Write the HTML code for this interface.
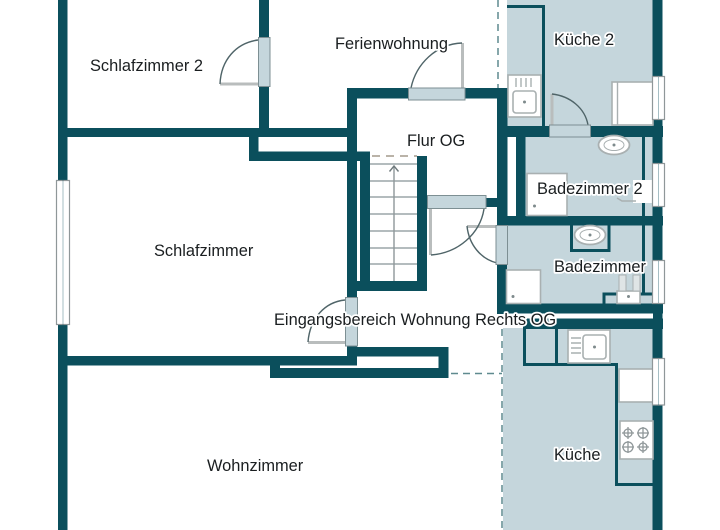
<!DOCTYPE html>
<html lang="de">
<head>
<meta charset="utf-8">
<title>Grundriss</title>
<style>
html,body{margin:0;padding:0;background:#fff}
svg{display:block}
text{font-family:"Liberation Sans",Arial,sans-serif;font-size:16.4px;fill:#1a1e20;stroke:#fff;stroke-width:3.5px;paint-order:stroke;stroke-linejoin:round}
</style>
</head>
<body>
<svg width="720" height="530" viewBox="0 0 720 530" xmlns="http://www.w3.org/2000/svg">
<rect width="720" height="530" fill="#fff"/>

<!-- floors -->
<g fill="#c5d6dc">
<rect x="507" y="0" width="147" height="127"/>
<rect x="515" y="137" width="138" height="80"/>
<rect x="505" y="224" width="148" height="81"/>
<rect x="503" y="328" width="151" height="202"/>
</g>

<!-- dashed boundaries -->
<g fill="none" stroke="#5f8a8f" stroke-width="1.5" stroke-dasharray="7 5">
<path d="M498 0V88"/>
<path d="M502 329V530"/>
<path d="M451 373.5H502"/>
</g>

<!-- stairs -->
<g stroke="#aab3b5" stroke-width="1.800" fill="none">
<path d="M370 164H417M370 181H417M370 197H417M370 214H417M370 231H417M370 248H417M370 264H417"/>
<path d="M394 166V281" stroke="#8e9799" stroke-width="1.400"/>
<path d="M389.500 171.500L394 166L398.500 171.500" stroke="#6f7a7d" stroke-width="1.400"/>
</g>
<path d="M372 156H417" stroke="#a39a8c" stroke-width="1.500" stroke-dasharray="8 6" fill="none"/>

<!-- main walls -->
<g fill="#0b4f5c">
<rect x="58" y="0" width="9.500" height="180"/>
<rect x="58" y="325" width="9.500" height="205"/>
<rect x="58" y="128" width="299" height="9"/>
<rect x="259" y="0" width="10" height="137"/>
<rect x="249" y="128" width="9.500" height="33"/>
<rect x="249" y="151.500" width="121" height="9.500"/>
<rect x="347" y="88" width="10" height="209"/>
<rect x="347" y="88" width="161" height="10.500"/>
<rect x="360" y="151.500" width="10" height="139"/>
<rect x="417" y="156" width="10" height="135"/>
<rect x="347" y="281" width="80" height="10"/>
<rect x="347" y="346" width="10" height="19"/>
<rect x="347" y="347" width="101.500" height="9.500"/>
<rect x="438.500" y="347" width="10" height="31"/>
<rect x="270" y="368" width="178.500" height="10"/>
<rect x="270" y="356" width="10" height="22"/>
<rect x="58" y="356" width="299" height="9.500"/>
<rect x="497" y="88" width="10.500" height="137"/>
<rect x="486" y="198" width="12" height="9"/>
<rect x="516" y="126" width="9.500" height="91"/>
<rect x="497" y="126" width="166" height="11"/>
<rect x="497" y="216" width="166" height="9.500"/>
<rect x="497" y="265" width="10" height="49"/>
<rect x="497" y="303.500" width="166" height="10"/>
<rect x="523" y="318.500" width="140" height="10.500"/>
<rect x="652.500" y="0" width="10" height="76"/>
<rect x="652.500" y="120" width="10" height="43"/>
<rect x="652.500" y="207" width="10" height="53"/>
<rect x="652.500" y="303" width="10" height="55"/>
<rect x="652.500" y="405" width="10" height="125"/>
</g>
<rect x="505" y="313.500" width="148" height="5" fill="#fff"/>
<rect x="507.500" y="137" width="8.500" height="79" fill="#fff"/>

<!-- thin walls -->
<g fill="none" stroke="#0b4f5c" stroke-width="3">
<path d="M507 6.500H543.500V126"/>
<path d="M643.500 137V216"/>
<path d="M571.500 225V250.500H609V225"/>
<path d="M643.500 225V295"/>
<path d="M604 304V294H652"/>
<path d="M524.500 329V364.500H616.500V484.500H653"/>
<path d="M556.500 329V364"/>
</g>

<!-- fixtures: white appliances -->
<g fill="#fff" stroke="#a9b0b1" stroke-width="1.600">
<rect x="508" y="75" width="33" height="42"/>
<rect x="612" y="82" width="41" height="43"/>
<rect x="527" y="173.500" width="40" height="42"/>
<rect x="506.500" y="270" width="34" height="33.500"/>
<rect x="568" y="330" width="42" height="33"/>
<rect x="619" y="369" width="34" height="33"/>
<rect x="620" y="421" width="33" height="38"/>
<rect x="617" y="291" width="23" height="12.500"/>
</g>
<rect x="633" y="180" width="19" height="23" fill="#fff"/>
<path d="M617.500 82V125" stroke="#a9b0b1" stroke-width="1.400"/>

<!-- sinks -->
<g fill="#fff" stroke="#a9b0b1" stroke-width="1.600">
<rect x="513" y="91" width="23" height="22" rx="3"/>
<rect x="583" y="335" width="23" height="24" rx="3"/>
</g>
<path d="M516 78V87M521 78V87M526 78V87M531 78V87M571 338H581M571 343H581M571 348H581M571 353H581" stroke="#a9b0b1" stroke-width="1.400" fill="none"/>

<g fill="#fff" stroke="#a9b0b1" stroke-width="1.800">
<ellipse cx="614" cy="145" rx="15.500" ry="9.500"/>
<ellipse cx="590" cy="235" rx="15.500" ry="9.500"/>
<ellipse cx="614" cy="145" rx="10" ry="5.500" stroke-width="1"/>
<ellipse cx="590" cy="235" rx="10" ry="5.500" stroke-width="1"/>
</g>
<g fill="#7e8a8c">
<circle cx="614" cy="145" r="1.500"/>
<circle cx="590" cy="235" r="1.500"/>
<circle cx="524.500" cy="102" r="1.500"/>
<circle cx="594.500" cy="347" r="1.500"/>
<circle cx="628.500" cy="296.500" r="1.500"/>
<circle cx="513" cy="296.500" r="1.500"/>
<circle cx="534.500" cy="206" r="1.500"/>
</g>

<!-- toilet tank and towel details -->
<g fill="#dfe5e6" stroke="#a9b0b1" stroke-width="1">
<rect x="619" y="275" width="7" height="16"/>
<rect x="633" y="275" width="7" height="16"/>
</g>
<path d="M617 198L622 201H636" fill="none" stroke="#a9b0b1" stroke-width="1.400"/>

<!-- burners -->
<g fill="none" stroke="#8f9799" stroke-width="1.300">
<circle cx="628" cy="433" r="4"/><circle cx="643" cy="433" r="5"/>
<circle cx="628" cy="447" r="5"/><circle cx="643" cy="447" r="4"/>
<path d="M622 433H634M628 427V439M637 433H649M643 427V439M622 447H634M628 441V453M637 447H649M643 441V453"/>
</g>

<!-- windows -->
<g fill="#fff" stroke="#8f9799" stroke-width="1.200">
<rect x="56.500" y="180.500" width="13" height="144"/>
<rect x="652.500" y="76.500" width="12" height="43"/>
<rect x="652.500" y="163.500" width="12" height="43"/>
<rect x="652.500" y="260.500" width="12" height="43"/>
<rect x="652.500" y="358.500" width="12" height="46.500"/>
</g>
<path d="M63 180V325M658.500 77V119M658.500 164V206M658.500 261V303M658.500 359V405" stroke="#0b4f5c" stroke-width="0.800" opacity=".45"/>

<!-- door leaves -->
<g fill="none" stroke="#b9bdbd" stroke-width="3">
<path d="M220 84H258"/>
<path d="M462.500 43V88"/>
<path d="M552 94V125"/>
<path d="M430.500 209V255"/>
<path d="M467 226.500H497"/>
<path d="M308 342.500H345"/>
</g>
<!-- door arcs -->
<g fill="none" stroke="#4f6468" stroke-width="1.400">
<path d="M258 40C236 43 221 60 220 84"/>
<path d="M411 88C416 64 436 44 462 43"/>
<path d="M552 94C570 96 585 108 588 125"/>
<path d="M431 255C458 253 480 234 484 209"/>
<path d="M467 226C469 245 481 259 497 263"/>
<path d="M345 300C325 302 310 318 308 342"/>
</g>

<!-- door frames -->
<g fill="#c5d6dc" stroke="#7d8f93" stroke-width="1">
<rect x="258.500" y="37.500" width="11.500" height="49"/>
<rect x="408.500" y="88" width="56.500" height="12"/>
<rect x="549.500" y="125" width="41" height="12"/>
<rect x="427.500" y="195.500" width="58.500" height="13"/>
<rect x="496" y="225.500" width="11.500" height="39"/>
<rect x="345.500" y="297.500" width="12" height="48.500"/>
</g>

<!-- labels -->
<text x="90" y="71">Schlafzimmer 2</text>
<text x="335" y="49">Ferienwohnung</text>
<text x="554" y="45">Küche 2</text>
<text x="407" y="146">Flur OG</text>
<text x="537" y="194">Badezimmer 2</text>
<text x="154" y="256">Schlafzimmer</text>
<text x="554" y="272">Badezimmer</text>
<text x="274" y="325">Eingangsbereich Wohnung Rechts OG</text>
<text x="207" y="471">Wohnzimmer</text>
<text x="554" y="460">Küche</text>
</svg>
</body>
</html>
